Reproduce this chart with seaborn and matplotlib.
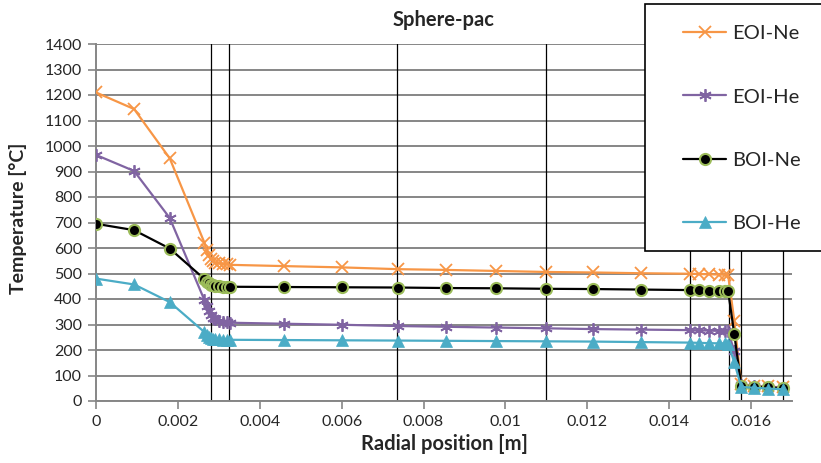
import matplotlib
matplotlib.use("Agg")
import matplotlib.pyplot as plt
from matplotlib.patches import Rectangle
import seaborn as sns

# radial positions of the nodes [m]
radial = [0, 0.00093, 0.0018,
          0.00265, 0.0027, 0.00275, 0.0028, 0.00285, 0.0029, 0.003, 0.0031, 0.0032, 0.00327,
          0.0046, 0.006, 0.00737, 0.00856, 0.00978, 0.011, 0.01215, 0.01332,
          0.0145, 0.01472, 0.01497, 0.01522, 0.01537, 0.01544, 0.01559,
          0.01576, 0.01607, 0.01641, 0.01678]

# temperatures [°C]
eoi_ne = [1210, 1145, 952,
          620, 592, 572, 558, 549, 543, 540, 538, 536, 534,
          529, 524, 517, 514, 510, 506, 504, 501,
          499, 498, 497, 496, 495, 494, 315,
          65, 60, 57, 53]
eoi_he = [965, 902, 718,
          395, 372, 352, 337, 327, 320, 315, 311, 309, 307,
          303, 299, 294, 291, 288, 285, 282, 280,
          278, 277, 276, 275, 275, 274, 195,
          63, 59, 56, 52]
boi_ne = [695, 670, 598,
          478, 468, 461, 456, 453, 451, 450, 449, 448, 448,
          447, 446, 445, 443, 442, 440, 439, 437,
          435, 434, 433, 432, 431, 431, 263,
          60, 56, 53, 50]
boi_he = [480, 457, 388,
          270, 258, 251, 247, 245, 243, 242, 241, 240, 240,
          239, 238, 237, 236, 235, 234, 233, 231,
          229, 228, 227, 226, 226, 225, 152,
          55, 52, 49, 46]

# region boundaries (vertical lines)
boundaries = [0.00282, 0.00326, 0.00734, 0.0110, 0.01451, 0.01546, 0.01575, 0.01678]

x_ticks = [0, 0.002, 0.004, 0.006, 0.008, 0.010, 0.012, 0.014, 0.016]
x_tick_labels = ["0", "0.002", "0.004", "0.006", "0.008", "0.01", "0.012", "0.014", "0.016"]
y_ticks = list(range(0, 1401, 100))

sns.set_style("white")
plt.rcParams["font.family"] = ["Lato", "DejaVu Sans"]

W, H = 821, 463
fig = plt.figure(figsize=(W / 100, H / 100), dpi=100)
ax = fig.add_axes([96 / W, 1 - 401 / H, (792 - 96) / W, (401 - 44) / H])

grid_col = "#868686"
series = [
    ("EOI-Ne", eoi_ne, dict(color="#F79646", marker="x", markersize=8,
                            markeredgecolor="#F79646", markeredgewidth=1.3)),
    ("EOI-He", eoi_he, dict(color="#8064A2", marker=(6, 2, 0), markersize=9,
                            markeredgecolor="#8064A2", markeredgewidth=1.3)),
    ("BOI-Ne", boi_ne, dict(color="black", marker="o", markersize=8,
                            markerfacecolor="black", markeredgecolor="#9BBB59",
                            markeredgewidth=1.5)),
    ("BOI-He", boi_he, dict(color="#4BACC6", marker="^", markersize=8.5,
                            markerfacecolor="#4BACC6", markeredgecolor="#4BACC6",
                            markeredgewidth=0.5)),
]
for name, vals, kw in series:
    sns.lineplot(x=radial, y=vals, ax=ax, label=name, linewidth=1.6, zorder=3, **kw)

for b in boundaries:
    ax.axvline(b, color="black", lw=0.9, zorder=2)

ax.set_xlim(0, 0.017)
ax.set_ylim(0, 1400)
ax.set_xticks(x_ticks)
ax.set_xticklabels(x_tick_labels)
ax.set_yticks(y_ticks)
ax.yaxis.grid(True, color=grid_col, lw=1.4)
ax.xaxis.grid(False)
ax.set_axisbelow(True)
for s in ["top", "right"]:
    ax.spines[s].set_visible(False)
for s in ["left", "bottom"]:
    ax.spines[s].set_color(grid_col)
    ax.spines[s].set_linewidth(1.4)
ax.tick_params(axis="both", which="major", labelsize=11.5, length=6, width=1.2,
               color=grid_col, direction="out", left=True, bottom=True, pad=4)
ax.set_xlabel("")
ax.set_ylabel("")

handles, labels = ax.get_legend_handles_labels()
ax.get_legend().remove()

fig.text(444 / W, 1 - 20 / H, "Sphere-pac", ha="center", va="center",
         fontsize=14.5, fontweight="bold")
fig.text(444 / W, 1 - 444 / H, "Radial position [m]", ha="center", va="center",
         fontsize=14.5, fontweight="bold")
fig.text(18 / W, 1 - 218 / H, "Temperature [°C]", ha="center", va="center",
         rotation=90, fontsize=14, fontweight="bold")

# legend box (runs off the right edge like the original)
box = Rectangle((645 / W, 1 - 251 / H), 200 / W, 247 / H, transform=fig.transFigure,
                facecolor="white", edgecolor="black", lw=1.2, zorder=5)
fig.add_artist(box)
leg = fig.legend(handles, labels, loc="upper left", bbox_to_anchor=(683 / W, 1 - 25 / H),
                 frameon=False, fontsize=14.5, handlelength=2.15, handletextpad=0.3,
                 labelspacing=2.3, borderpad=0, borderaxespad=0)
leg.set_zorder(6)

fig.savefig("out.png", dpi=100)
